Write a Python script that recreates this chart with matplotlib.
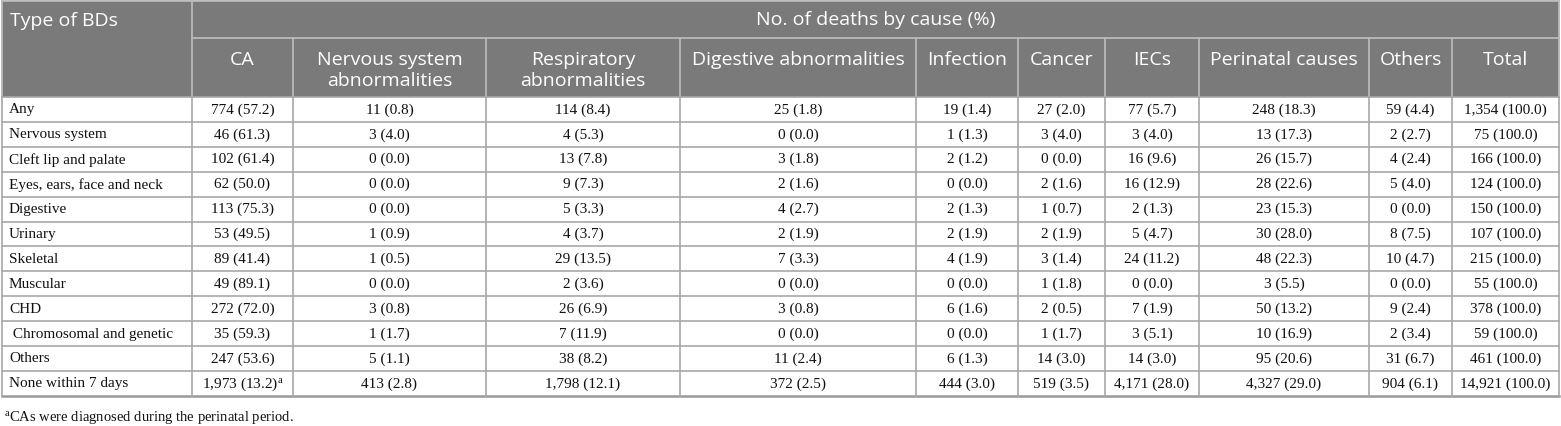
import matplotlib
matplotlib.use("Agg")
import matplotlib.pyplot as plt
from matplotlib.patches import Rectangle

plt.rcParams['mathtext.fontset'] = 'custom'
plt.rcParams['mathtext.rm'] = 'Liberation Serif'
plt.rcParams['mathtext.it'] = 'Liberation Serif:italic'

# ---------------- data ----------------
row_labels = ["Any", "Nervous system", "Cleft lip and palate", "Eyes, ears, face and neck",
              "Digestive", "Urinary", "Skeletal", "Muscular", "CHD",
              " Chromosomal and genetic", "Others", "None within 7 days"]

col_headers = ["CA", "Nervous system\nabnormalities", "Respiratory\nabnormalities",
               "Digestive abnormalities", "Infection", "Cancer", "IECs",
               "Perinatal causes", "Others", "Total"]

ca_n = [774, 46, 102, 62, 113, 53, 89, 49, 272, 35, 247, 1973]
ca_p = [57.2, 61.3, 61.4, 50.0, 75.3, 49.5, 41.4, 89.1, 72.0, 59.3, 53.6, 13.2]
nerv_n = [11, 3, 0, 0, 0, 1, 1, 0, 3, 1, 5, 413]
nerv_p = [0.8, 4.0, 0.0, 0.0, 0.0, 0.9, 0.5, 0.0, 0.8, 1.7, 1.1, 2.8]
resp_n = [114, 4, 13, 9, 5, 4, 29, 2, 26, 7, 38, 1798]
resp_p = [8.4, 5.3, 7.8, 7.3, 3.3, 3.7, 13.5, 3.6, 6.9, 11.9, 8.2, 12.1]
dig_n = [25, 0, 3, 2, 4, 2, 7, 0, 3, 0, 11, 372]
dig_p = [1.8, 0.0, 1.8, 1.6, 2.7, 1.9, 3.3, 0.0, 0.8, 0.0, 2.4, 2.5]
inf_n = [19, 1, 2, 0, 2, 2, 4, 0, 6, 0, 6, 444]
inf_p = [1.4, 1.3, 1.2, 0.0, 1.3, 1.9, 1.9, 0.0, 1.6, 0.0, 1.3, 3.0]
can_n = [27, 3, 0, 2, 1, 2, 3, 1, 2, 1, 14, 519]
can_p = [2.0, 4.0, 0.0, 1.6, 0.7, 1.9, 1.4, 1.8, 0.5, 1.7, 3.0, 3.5]
iec_n = [77, 3, 16, 16, 2, 5, 24, 0, 7, 3, 14, 4171]
iec_p = [5.7, 4.0, 9.6, 12.9, 1.3, 4.7, 11.2, 0.0, 1.9, 5.1, 3.0, 28.0]
peri_n = [248, 13, 26, 28, 23, 30, 48, 3, 50, 10, 95, 4327]
peri_p = [18.3, 17.3, 15.7, 22.6, 15.3, 28.0, 22.3, 5.5, 13.2, 16.9, 20.6, 29.0]
oth_n = [59, 2, 4, 5, 0, 8, 10, 0, 9, 2, 31, 904]
oth_p = [4.4, 2.7, 2.4, 4.0, 0.0, 7.5, 4.7, 0.0, 2.4, 3.4, 6.7, 6.1]
tot_n = [1354, 75, 166, 124, 150, 107, 215, 55, 378, 59, 461, 14921]
tot_p = [100.0] * 12

columns = [(ca_n, ca_p), (nerv_n, nerv_p), (resp_n, resp_p), (dig_n, dig_p),
           (inf_n, inf_p), (can_n, can_p), (iec_n, iec_p), (peri_n, peri_p),
           (oth_n, oth_p), (tot_n, tot_p)]

title_header = "Type of BDs"
group_header = "No. of deaths by cause (%)"
footnote = "$^{\\mathrm{a}}$CAs were diagnosed during the perinatal period."

# ---------------- layout ----------------
W, H = 1561, 426
xb = [2, 192, 293, 486, 680, 916, 1018, 1105, 1199, 1369, 1452, 1559]
y_top, y_h1, y_h2 = 1, 38, 97
row_h = 24.9
n_rows = len(row_labels)
y_bottom = y_h2 + row_h * n_rows

hdr_bg = "#7a7a7a"
hdr_line = "#b9b9b9"
body_line = "#a8a8a8"
header_font = "Open Sans"
body_font = "Liberation Serif"

fig = plt.figure(figsize=(W / 100, H / 100), dpi=100)
ax = fig.add_axes([0, 0, 1, 1])
ax.set_xlim(0, W)
ax.set_ylim(H, 0)
ax.axis("off")

# header background
ax.add_patch(Rectangle((xb[0], y_top), xb[-1] - xb[0], y_h2 - y_top,
                       facecolor=hdr_bg, edgecolor="none", zorder=1))

# header lines
ax.plot([xb[1], xb[-1]], [y_h1, y_h1], color=hdr_line, lw=1.3, zorder=2)
ax.plot([xb[1], xb[1]], [y_top, y_h2], color=hdr_line, lw=1.3, zorder=2)
for x in xb[2:-1]:
    ax.plot([x, x], [y_h1, y_h2], color=hdr_line, lw=1.3, zorder=2)
ax.plot([xb[0], xb[-1]], [y_top, y_top], color=hdr_line, lw=1.3, zorder=2)
ax.plot([xb[0], xb[0]], [y_top, y_h2], color=hdr_line, lw=1.3, zorder=2)
ax.plot([xb[-1], xb[-1]], [y_top, y_h2], color=hdr_line, lw=1.3, zorder=2)

# header texts
ax.text(xb[0] + 8, 21, title_header, ha="left", va="center", color="white",
        fontsize=14, family=header_font, zorder=3)
ax.text((xb[1] + xb[-1]) / 2, 20, group_header, ha="center", va="center",
        color="white", fontsize=14, family=header_font, zorder=3)
for j, h in enumerate(col_headers):
    cx = (xb[j + 1] + xb[j + 2]) / 2
    ax.text(cx, 51, h, ha="center", va="top", color="white", fontsize=14,
            family=header_font, linespacing=1.25, zorder=3)

# body lines
for i in range(n_rows + 1):
    y = y_h2 + row_h * i
    lw = 1.8 if i == n_rows else 1.2
    col = "#999999" if i == n_rows else body_line
    ax.plot([xb[0], xb[-1]], [y, y], color=col, lw=lw, zorder=2)
for x in xb:
    ax.plot([x, x], [y_h2, y_bottom], color=body_line, lw=1.2, zorder=2)

# body texts
for i, lab in enumerate(row_labels):
    cy = y_h2 + row_h * (i + 0.5)
    ax.text(xb[0] + 7, cy + 0.5, lab, ha="left", va="center", fontsize=11,
            family=body_font, color="#111111", zorder=3)
    for j, (ns, ps) in enumerate(columns):
        cx = (xb[j + 1] + xb[j + 2]) / 2
        s = f"{ns[i]:,} ({ps[i]:.1f})"
        if i == n_rows - 1 and j == 0:
            s = s + "$^{\\mathrm{a}}$"
        ax.text(cx, cy + 0.5, s, ha="center", va="center", fontsize=11,
                family=body_font, color="#111111", zorder=3)

# footnote
ax.text(xb[0] + 2, 417, footnote, ha="left", va="center", fontsize=10.5,
        family=body_font, color="#111111")

fig.savefig("out.png", dpi=100)
